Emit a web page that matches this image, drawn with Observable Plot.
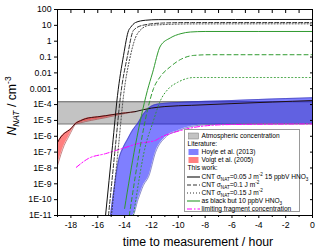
<!DOCTYPE html>
<html><head><meta charset="utf-8">
<script src="https://cdn.jsdelivr.net/npm/d3@7"></script>
<script src="https://cdn.jsdelivr.net/npm/@observablehq/plot@0.6"></script>
<style>
html,body{margin:0;padding:0;background:#fff;}
#chart{position:relative;width:320px;height:250px;font-family:'Liberation Sans',Arial,Helvetica,sans-serif;}
#legend{position:absolute;left:184px;top:129px;width:116px;height:83px;box-sizing:border-box;border:0.8px solid #999;background:#fff;}
#legend .row{position:absolute;left:0;height:8px;line-height:8px;font-size:6.6px;white-space:nowrap;color:#000;}
#legend .row span.t{position:absolute;top:0;}
#legend sub,#legend sup{font-size:4.6px;line-height:0;}
#legend svg{position:absolute;left:0;top:0;}
#ytitle{position:absolute;left:16px;top:106px;transform:translate(-100%,-50%) rotate(-90deg);transform-origin:100% 50%;}
</style></head><body><div id="chart"></div>
<script>
// ---------- data ----------
const atmosX = [-19, 0];
const atmosLow = [6e-6, 6e-6];
const atmosHigh = [1.5e-4, 1.5e-4];

const voigtX    = [-19, -18.75, -18.5, -18.25, -18, -17.66, -17.3, -16.9, -16, -15.4, -14.5, -13.93, -13.2];
const voigtLow  = [1.4e-8, 7e-8, 2.7e-7, 7e-7, 1.8e-6, 5.5e-6, 7e-6, 8.5e-6, 1.2e-5, 1.5e-5, 2.2e-5, 2.8e-5, 3.6e-5];
const voigtHigh = [4e-7, 9e-7, 1.5e-6, 2.1e-6, 3e-6, 6.5e-6, 9.5e-6, 1.3e-5, 1.7e-5, 2e-5, 2.6e-5, 3e-5, 3.6e-5];
const voigtTrendX = [-13.2, -12, -11, -9, -6, -3, 0];
const voigtTrendY = [3.6e-5, 6e-5, 7.5e-5, 9e-5, 1.15e-4, 1.45e-4, 1.8e-4];

const hoyleX    = [-15.05, -14.8, -14.45, -14.1, -13.8, -13.4, -13.0, -12.6, -12.2, -11.7, -11.0, -10, -8, -6, -4, -2, 0];
const hoyleLow  = [1e-11, 1e-11, 1e-11, 1e-11, 1e-11, 1e-11, 1e-10, 8e-10, 3e-9, 9.5e-8, 8e-7, 2.3e-6, 5.3e-6, 5.8e-6, 6.1e-6, 6.3e-6, 6.4e-6];
const hoyleHigh = [1e-11, 4e-10, 3e-8, 2e-7, 6e-7, 2.5e-6, 7e-6, 2.5e-5, 6e-5, 1e-4, 1.2e-4, 1.35e-4, 1.6e-4, 1.8e-4, 2.1e-4, 2.4e-4, 2.7e-4];

const cnt005X = [-15.42, -14.9, -14.53, -14.08, -13.7, -13.56, -13.19, -12.44, -11.5, 0];
const cnt005Y = [1e-11, 2.6e-7, 3.7e-4, 0.126, 4.8, 7.3, 15, 21, 23, 23.5];
const cnt01X  = [-15.2, -14.68, -14.3, -13.78, -13.34, -12.67, -11.18, -9, 0];
const cnt01Y  = [1e-11, 2.6e-7, 3.7e-4, 0.126, 4.8, 10, 14, 15, 15];
const cnt015X = [-14.98, -14.45, -14.08, -13.56, -13.04, -12.2, -10.7, -9, 0];
const cnt015Y = [1e-11, 2.6e-7, 3.7e-4, 0.126, 3, 9.8, 11.5, 12.3, 12.5];

const green005X = [-14.0, -13.2, -12.3, -11.92, -11.33, -10.6, -9.8, -9.1, -8, 0];
const green005Y = [2.8e-11, 2.6e-7, 7.8e-4, 0.01, 0.5, 1.6, 3, 3.8, 4.1, 4.1];
const green01X  = [-13.65, -12.82, -12.3, -11.85, -11.33, -10.58, -9.83, -8.87, -7.6, 0];
const green01Y  = [1e-11, 2.6e-7, 4.3e-5, 1e-3, 5.9e-3, 0.025, 0.07, 0.126, 0.14, 0.14];
const green015X = [-13.34, -12.44, -11.92, -11.33, -10.73, -10.06, -9.31, -8.87, 0];
const green015Y = [1e-11, 2.6e-7, 6.4e-6, 1.8e-4, 1e-3, 2.5e-3, 4.5e-3, 5.1e-3, 5.1e-3];

const fragX = [-17.6, -16.69, -15.42, -14.16, -12.96, -11.7, -11.33, -9.83, -8.34, -6.1, 0];
const fragY = [1.1e-8, 4e-8, 8e-8, 1.7e-7, 3.5e-7, 5.5e-7, 8.3e-7, 2.3e-6, 4.2e-6, 5.5e-6, 6e-6];

const xMajor = [-18, -16, -14, -12, -10, -8, -6, -4, -2, 0];
const xMinor = [-19, -17, -15, -13, -11, -9, -7, -5, -3, -1];
const xAll = [-19, -18, -17, -16, -15, -14, -13, -12, -11, -10, -9, -8, -7, -6, -5, -4, -3, -2, -1, 0];
const yTicks = [1e-11, 1e-10, 1e-9, 1e-8, 1e-7, 1e-6, 1e-5, 1e-4, 1e-3, 1e-2, 0.1, 1, 10, 100];
const yTickLabels = ["1E-11", "1E-10", "1E-9", "1E-8", "1E-7", "1E-6", "1E-5", "1E-4", "0.001", "0.01", "0.1", "1", "10", "100"];

const xTitle = "time to measurement / hour";
const yTitleHTML = "<i>N</i><sub><i>NAT</i></sub> / cm<sup>-3</sup>";
const legendRows = [
  {kind: "rect", fill: "#c3c3c3", stroke: "#777", html: "Atmospheric concentration"},
  {kind: "head", html: "Literature:"},
  {kind: "rect", fill: "#8080ff", html: "Hoyle et al. (2013)"},
  {kind: "rect", fill: "#ff8080", html: "Voigt et al. (2005)"},
  {kind: "head", html: "This work:"},
  {kind: "line", stroke: "#111", dash: null, html: "CNT \u03C3<sub>NAT</sub>=0.05 J m<sup>-2</sup> 15 ppbV HNO<sub>3</sub>"},
  {kind: "line", stroke: "#333", dash: "4,2", html: "CNT \u03C3<sub>NAT</sub>=0.1 J m<sup>-2</sup>"},
  {kind: "line", stroke: "#333", dash: "1,2", html: "CNT \u03C3<sub>NAT</sub>=0.15 J m<sup>-2</sup>"},
  {kind: "line", stroke: "#2f9a2f", dash: null, html: "as black but 10 ppbV HNO<sub>3</sub>"},
  {kind: "line", stroke: "#ff00ff", dash: "5,2,1.5,2", html: "limiting fragment concentration"}
];

// ---------- build ----------
const FONT = "'Liberation Sans', Arial, Helvetica, sans-serif";
const band = (xs, lo, hi) => xs.map((x, i) => ({x, y1: lo[i], y2: hi[i]}));
const pts = (xs, ys) => xs.map((x, i) => ({x, y: ys[i]}));
const GREEN = "#2f9a2f";
const ln = (xs, ys, o) => Plot.lineY(pts(xs, ys), {x: "x", y: "y", curve: "monotone-x", clip: true, strokeWidth: 1, ...o});

const plot = Plot.plot({
  width: 320, height: 250,
  marginLeft: 57, marginRight: 8, marginTop: 9, marginBottom: 35,
  style: {fontFamily: FONT, fontSize: "8.7px", color: "#000", background: "#fff"},
  x: {domain: [-19, 0]},
  y: {type: "log", domain: [1e-11, 100]},
  marks: [
    Plot.areaY(band(atmosX, atmosLow, atmosHigh), {x: "x", y1: "y1", y2: "y2", fill: "#c3c3c3", clip: true}),
    ln(atmosX, atmosLow, {stroke: "#666", curve: "linear"}),
    ln(atmosX, atmosHigh, {stroke: "#666", curve: "linear"}),
    Plot.areaY(band(voigtX, voigtLow, voigtHigh), {x: "x", y1: "y1", y2: "y2", fill: "red", fillOpacity: 0.5, curve: "monotone-x", clip: true}),
    Plot.areaY(band(hoyleX, hoyleLow, hoyleHigh), {x: "x", y1: "y1", y2: "y2", fill: "blue", fillOpacity: 0.5, curve: "monotone-x", clip: true}),
    ln(hoyleX, hoyleHigh, {stroke: "#3a3aa8", strokeWidth: 0.6}),
    ln(hoyleX, hoyleLow, {stroke: "#3a3aa8", strokeWidth: 0.6}),
    ln(voigtX, voigtLow, {stroke: "#a03030", strokeWidth: 0.6}),
    ln(voigtX, voigtHigh, {stroke: "#401010", strokeWidth: 1}),
    ln(voigtTrendX, voigtTrendY, {stroke: "#201010", strokeWidth: 1}),
    ln(fragX, fragY, {stroke: "#ff00ff", strokeDasharray: "5,2,1.5,2"}),
    ln(green015X, green015Y, {stroke: GREEN, strokeDasharray: "1,2.5"}),
    ln(green01X, green01Y, {stroke: GREEN, strokeDasharray: "4,3"}),
    ln(green005X, green005Y, {stroke: GREEN}),
    ln(cnt015X, cnt015Y, {stroke: "#333", strokeDasharray: "1,2"}),
    ln(cnt01X, cnt01Y, {stroke: "#333", strokeDasharray: "4,2"}),
    ln(cnt005X, cnt005Y, {stroke: "#111"}),
    Plot.frame({stroke: "#000", strokeWidth: 1}),
    Plot.axisX({anchor: "bottom", ticks: xMajor, tickSize: 3, tickPadding: 3, tickFormat: d => String(d), label: null}),
    Plot.axisX({anchor: "bottom", ticks: xMinor, tickSize: 2, tickFormat: () => "", label: null}),
    Plot.axisX({anchor: "top", ticks: xAll, tickSize: 3, dy: 3, tickFormat: () => "", label: null}),
    Plot.axisY({anchor: "left", ticks: yTicks, tickSize: 3, tickPadding: 3, tickFormat: d => yTickLabels[yTicks.indexOf(d)], label: null}),
    Plot.axisY({anchor: "right", ticks: yTicks, tickSize: 3, dx: -3, tickFormat: () => "", label: null})
  ]
});

const chart = document.getElementById("chart");
chart.appendChild(plot);

// x title (SVG text)
d3.select(plot).append("text").attr("x", 198).attr("y", 245.5).attr("text-anchor", "middle")
  .attr("font-family", FONT).attr("font-size", 12.3).attr("fill", "#000").text(xTitle);

// y title (HTML, rotated)
const yt = document.createElement("div");
yt.style.cssText = "position:absolute;left:16px;top:106px;font-size:12.3px;line-height:12px;white-space:nowrap;transform:translate(-50%,-50%) rotate(-90deg) translate(0,-6px);";
yt.innerHTML = yTitleHTML;
chart.appendChild(yt);
// centre the rotated box so that its glyphs sit around x≈12
yt.style.left = (12) + "px";
yt.style.transform = "translate(-50%,-50%) rotate(-90deg)";
yt.querySelectorAll("sub,sup").forEach(e => { e.style.fontSize = "8.4px"; e.style.lineHeight = "0"; });

// legend (HTML overlay)
const leg = document.createElement("div");
leg.id = "legend";
chart.appendChild(leg);
const r0 = 5.5, dr = 8.2;
legendRows.forEach((r, i) => {
  const cy = r0 + i * dr;
  const row = document.createElement("div");
  row.className = "row";
  row.style.top = (cy - 4) + "px";
  row.style.width = "114px";
  const s = d3.create("svg").attr("width", 16).attr("height", 8);
  if (r.kind === "rect") s.append("rect").attr("x", 3.5).attr("y", 1).attr("width", 10).attr("height", 6)
      .attr("fill", r.fill).attr("stroke", r.stroke || "none").attr("stroke-width", 0.5);
  if (r.kind === "line") s.append("line").attr("x1", 2).attr("x2", 15).attr("y1", 4).attr("y2", 4)
      .attr("stroke", r.stroke).attr("stroke-width", 1.1).attr("stroke-dasharray", r.dash);
  if (r.kind !== "head") row.appendChild(s.node());
  const t = document.createElement("span");
  t.className = "t";
  t.style.left = (r.kind === "head" ? 2.5 : 16.5) + "px";
  t.innerHTML = r.html;
  row.appendChild(t);
  leg.appendChild(row);
});
</script></body></html>
